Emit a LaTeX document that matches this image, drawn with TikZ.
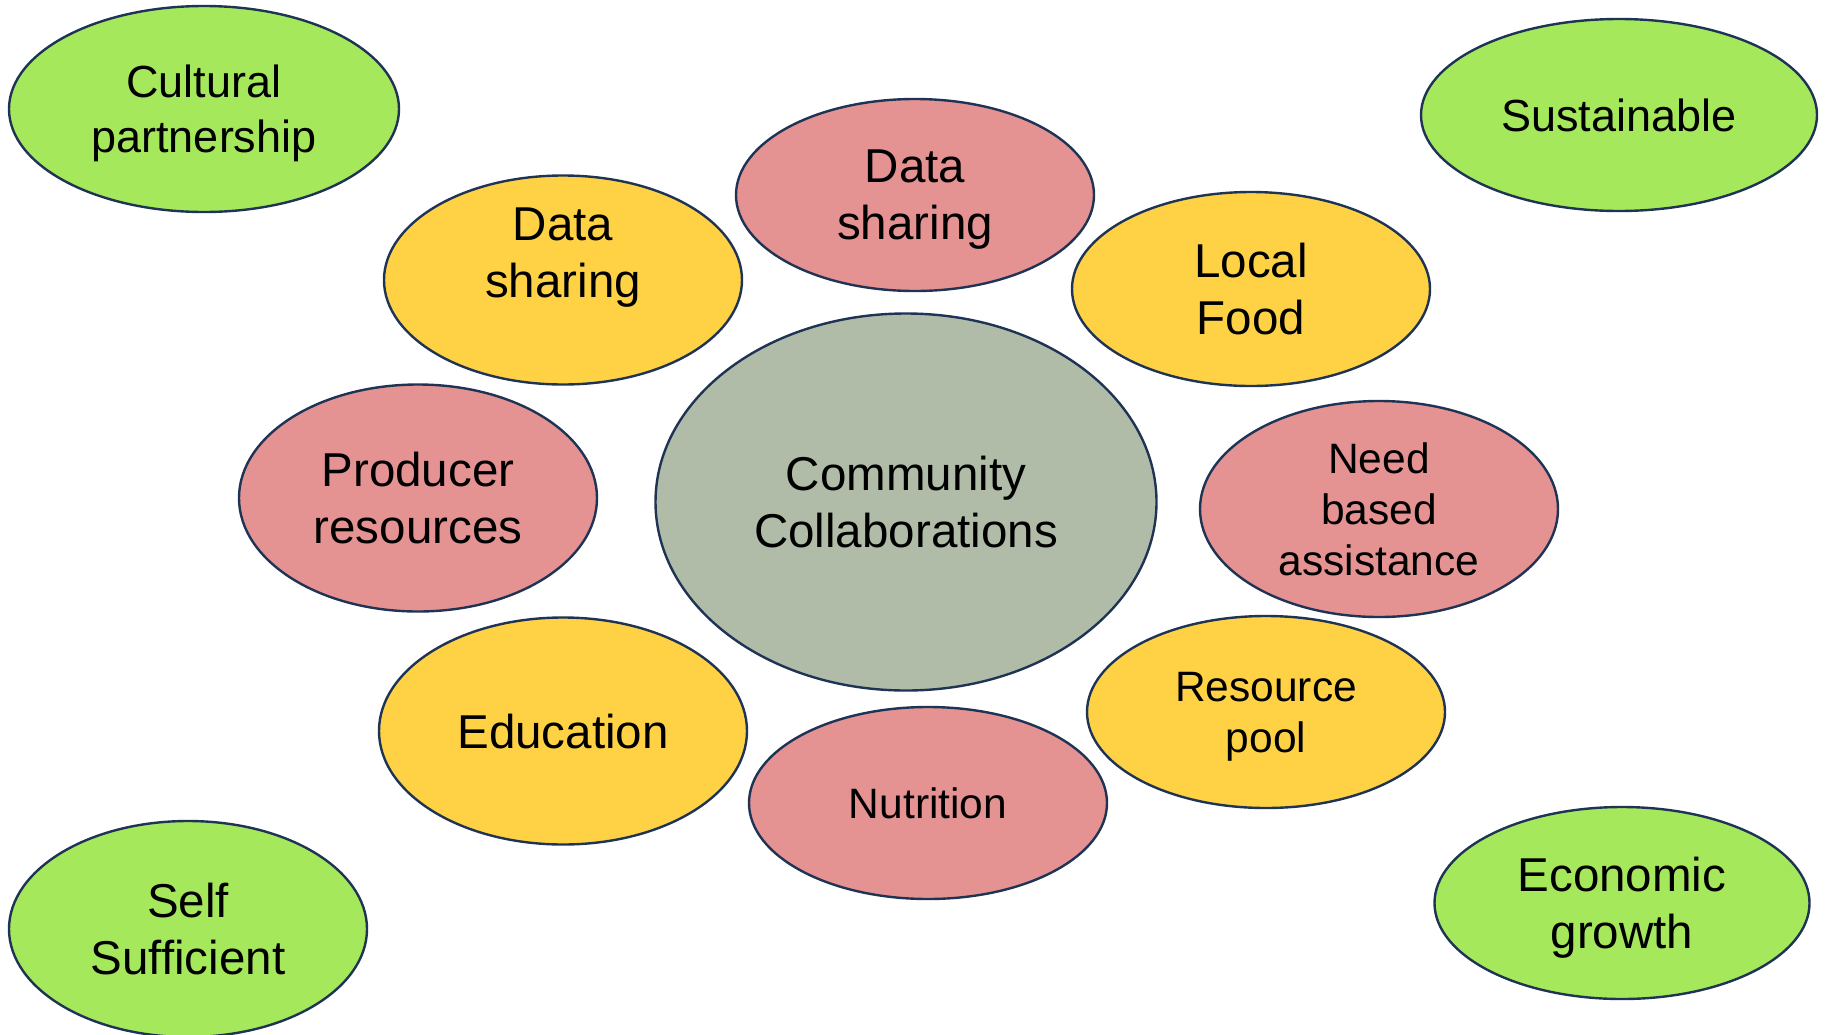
\documentclass[tikz,border=0pt]{standalone}
\usepackage{fontspec}
\setmainfont{Liberation Sans}
\usetikzlibrary{shapes.geometric}
\definecolor{cgreen}{HTML}{A5E85C}
\definecolor{cpink}{HTML}{E49292}
\definecolor{cyellow}{HTML}{FFD246}
\definecolor{cgrey}{HTML}{B0BCA8}
\definecolor{cline}{HTML}{1F3355}
\tikzset{
  ell/.style={ellipse, draw=cline, line width=2.4pt, inner sep=0pt, align=center, text=black, text depth=0pt},
  bigfont/.style={font=\fontsize{47.5pt}{57pt}\selectfont},
  midfont/.style={font=\fontsize{45pt}{55pt}\selectfont},
  smallfont/.style={font=\fontsize{42.5pt}{51pt}\selectfont},
  txt/.style={inner sep=0pt, align=center, text=black, text depth=0pt},
}
\begin{document}
\begin{tikzpicture}[x=1pt, y=-1pt]
\useasboundingbox (0,0) rectangle (1825,1034);
\fill[white] (0,0) rectangle (1825,1034);

\node[ell, fill=cgreen, midfont, minimum width=390pt, minimum height=206pt] (cult) at (204,109) {Cultural\\partnership};
\node[ell, fill=cgreen, midfont, minimum width=396pt, minimum height=192pt] (sust) at (1619,115) {Sustainable};
\node[ell, fill=cpink, bigfont, minimum width=358pt, minimum height=192pt] (dsr) at (915,195) {Data\\sharing};
\node[ell, fill=cyellow, minimum width=358pt, minimum height=209pt] (dsy) at (563,280) {};
\node[txt, bigfont] (dsyt) at ([yshift=27pt]dsy.center) {Data\\sharing};
\node[ell, fill=cyellow, bigfont, minimum width=358pt, minimum height=194pt] (food) at (1251,289) {Local\\Food};
\node[ell, fill=cgrey, bigfont, minimum width=501pt, minimum height=377pt] (comm) at (906,502) {Community\\Collaborations};
\node[ell, fill=cpink, bigfont, minimum width=358pt, minimum height=227pt] (prod) at (418,498) {Producer\\resources};
\node[ell, fill=cpink, smallfont, minimum width=358pt, minimum height=216pt] (need) at (1379,509) {Need\\based\\assistance};
\node[ell, fill=cyellow, bigfont, minimum width=368pt, minimum height=227pt] (edu) at (563,731) {Education};
\node[ell, fill=cyellow, smallfont, minimum width=358pt, minimum height=192pt] (pool) at (1266,712) {Resource\\pool};
\node[ell, fill=cpink, smallfont, minimum width=358pt, minimum height=192pt] (nutr) at (928,803) {Nutrition};
\node[ell, fill=cgreen, bigfont, minimum width=358pt, minimum height=216pt] (self) at (188,929) {Self\\Sufficient};
\node[ell, fill=cgreen, bigfont, minimum width=375pt, minimum height=192pt] (econ) at (1622,903) {Economic\\growth};
\end{tikzpicture}
\end{document}
